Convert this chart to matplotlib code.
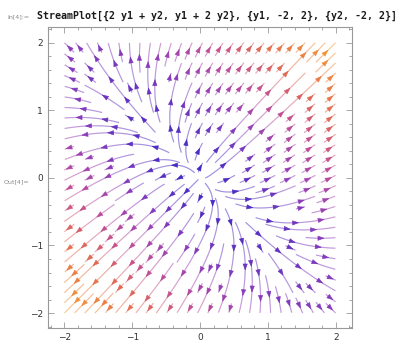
import numpy as np
import matplotlib
matplotlib.use("Agg")
import matplotlib.pyplot as plt
from matplotlib.colors import LinearSegmentedColormap
from matplotlib.collections import LineCollection
from matplotlib.patches import FancyArrowPatch
from matplotlib.ticker import MultipleLocator

# Vector field: dy1 = 2*y1 + y2, dy2 = y1 + 2*y2
coef_u = [2.0, 1.0]
coef_v = [1.0, 2.0]
y1_range = [-2.0, 2.0]
y2_range = [-2.0, 2.0]
tick_vals = [-2, -1, 0, 1, 2]
tick_labels = ["\u22122", "\u22121", "0", "1", "2"]
input_text = "StreamPlot[{2 y1 + y2, y1 + 2 y2}, {y1, -2, 2}, {y2, -2, 2}]"

W, H = 402, 349
fig = plt.figure(figsize=(W / 100, H / 100), dpi=100)
ax = fig.add_axes([48 / W, (H - 328) / H, (352 - 48) / W, (328 - 27) / H])


def field(p):
    return np.array([coef_u[0] * p[0] + coef_u[1] * p[1],
                     coef_v[0] * p[0] + coef_v[1] * p[1]])


def unit(p, sgn):
    f = field(p)
    n = np.hypot(f[0], f[1])
    return sgn * f / max(n, 1e-9)


# occupancy grid for evenly spaced streamlines
ncell = 27
cell = (y1_range[1] - y1_range[0]) / ncell
occ = -np.ones((ncell, ncell), dtype=int)


def cell_of(p):
    i = int(min(ncell - 1, max(0, (p[0] - y1_range[0]) / cell)))
    j = int(min(ncell - 1, max(0, (p[1] - y2_range[0]) / cell)))
    return i, j


def trace(p0, sgn, lid, h=0.01, maxlen=6.0):
    pts = [p0.copy()]
    p = p0.copy()
    s = 0.0
    visited = []
    while s < maxlen:
        k1 = unit(p, sgn)
        k2 = unit(p + 0.5 * h * k1, sgn)
        k3 = unit(p + 0.5 * h * k2, sgn)
        k4 = unit(p + h * k3, sgn)
        q = p + h / 6 * (k1 + 2 * k2 + 2 * k3 + k4)
        if not (y1_range[0] <= q[0] <= y1_range[1] and y2_range[0] <= q[1] <= y2_range[1]):
            break
        if np.hypot(*q) < 0.03:
            break
        c = cell_of(q)
        if occ[c] != -1 and occ[c] != lid:
            break
        if occ[c] == -1:
            occ[c] = lid
            visited.append(c)
        p = q
        pts.append(p.copy())
        s += h
    return np.array(pts), visited


cmap = LinearSegmentedColormap.from_list(
    "mma", [(0.0, "#3a26c8"), (0.17, "#5a30c0"), (0.33, "#8c3cbc"),
            (0.53, "#c04c98"), (0.72, "#e46a50"), (1.0, "#f8a030")])
norm = plt.Normalize(0, 8.5)

g = y1_range[0] + (np.arange(ncell) + 0.5) * cell
order = sorted([(sx, sy) for sy in g for sx in g], key=lambda t: -max(abs(t[0]), abs(t[1])))

segs, cols = [], []
lid = 0
arrow_gap = 0.38
for sx, sy in order:
    p0 = np.array([sx, sy])
    if occ[cell_of(p0)] != -1:
        continue
    lid += 1
    occ[cell_of(p0)] = lid
    back, v1 = trace(p0, -1, lid)
    fwd, v2 = trace(p0, 1, lid)
    line = np.vstack([back[::-1], fwd[1:]])
    if len(line) < 15:
        for c in v1 + v2 + [cell_of(p0)]:
            occ[c] = -1
        continue
    mids = 0.5 * (line[1:] + line[:-1])
    sp = np.hypot(*field(mids.T))
    segs.extend(np.stack([line[:-1], line[1:]], axis=1))
    cols.extend(sp)
    seglen = np.hypot(*(line[1:] - line[:-1]).T)
    arc = np.concatenate([[0], np.cumsum(seglen)])
    total = arc[-1]
    n_arr = max(1, int(total / arrow_gap))
    offs = (total - (n_arr - 1) * arrow_gap) / 2
    for k in range(n_arr):
        a = offs + k * arrow_gap
        idx = int(np.searchsorted(arc, a))
        idx = min(max(idx, 1), len(line) - 1)
        pa = line[idx]
        d = unit(pa, 1)
        col = cmap(norm(np.hypot(*field(pa))))
        ax.add_patch(FancyArrowPatch(pa - 0.05 * d, pa + 0.05 * d,
                                     arrowstyle="-|>,head_length=0.6,head_width=0.22",
                                     mutation_scale=7, color=col, lw=0.4,
                                     shrinkA=0, shrinkB=0, zorder=3))

lc = LineCollection(segs, cmap=cmap, norm=norm, linewidths=0.8, alpha=0.6, zorder=2)
lc.set_array(np.array(cols))
ax.add_collection(lc)

ax.set_xlim(-2.24, 2.24)
ax.set_ylim(-2.22, 2.23)
ax.set_xticks(tick_vals)
ax.set_xticklabels(tick_labels)
ax.set_yticks(tick_vals)
ax.set_yticklabels(tick_labels)
ax.xaxis.set_minor_locator(MultipleLocator(0.2))
ax.yaxis.set_minor_locator(MultipleLocator(0.2))
ax.tick_params(which="both", direction="in", top=True, right=True, colors="#999999",
               labelcolor="#333333", labelsize=6.5, width=0.6)
ax.tick_params(which="major", length=4)
ax.tick_params(which="minor", length=2)
for s in ax.spines.values():
    s.set_color("#999999")
    s.set_linewidth(0.8)

fig.text(7 / W, 1 - 17 / H, "In[4]:=", fontsize=4.5, color="#888888", va="center", ha="left")
fig.text(37 / W, 1 - 16 / H, input_text, fontsize=7.2, family="DejaVu Sans Mono",
         weight="bold", color="#1a1a1a", va="center", ha="left")
fig.text(4 / W, 1 - 182 / H, "Out[4]=", fontsize=4.5, color="#888888", va="center", ha="left")

fig.savefig("out.png", dpi=100)
